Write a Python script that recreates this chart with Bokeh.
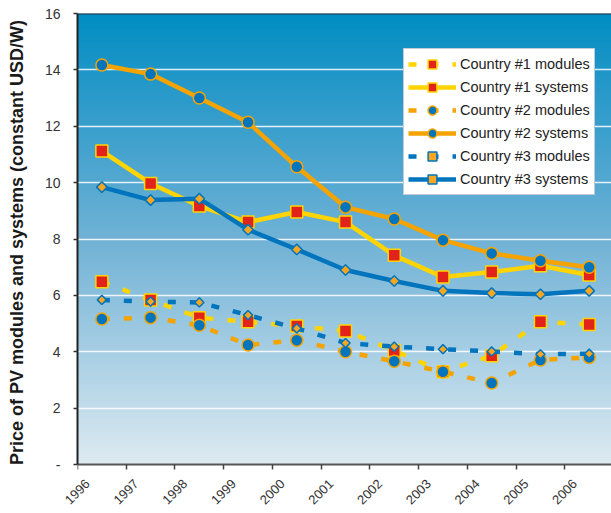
import math
import numpy as np
from bokeh.plotting import figure
from bokeh.models import (Range1d, LinearAxis, FixedTicker, Legend, LegendItem, Span,
                          CustomLabelingPolicy)
from bokeh.embed import file_html
from bokeh.resources import INLINE

# ---------------- data ----------------
years = [1996, 1997, 1998, 1999, 2000, 2001, 2002, 2003, 2004, 2005, 2006]
c1_modules = [6.48, 5.84, 5.21, 5.06, 4.91, 4.74, 4.04, 3.29, 3.86, 5.06, 4.97]
c1_systems = [11.12, 9.97, 9.17, 8.60, 8.96, 8.60, 7.42, 6.65, 6.83, 7.05, 6.72]
c2_modules = [5.16, 5.21, 4.94, 4.24, 4.41, 4.00, 3.66, 3.29, 2.89, 3.71, 3.80]
c2_systems = [14.17, 13.85, 13.00, 12.14, 10.56, 9.13, 8.71, 7.96, 7.49, 7.23, 7.00]
c3_modules = [5.84, 5.78, 5.75, 5.30, 4.83, 4.31, 4.18, 4.09, 4.01, 3.91, 3.93]
c3_systems = [9.84, 9.38, 9.43, 8.33, 7.63, 6.90, 6.51, 6.16, 6.08, 6.04, 6.16]
series_labels = ["Country #1 modules", "Country #1 systems",
                 "Country #2 modules", "Country #2 systems",
                 "Country #3 modules", "Country #3 systems"]
y_ticks = [0, 2, 4, 6, 8, 10, 12, 14, 16]
y_tick_labels = {0: "-"}

# category centres
xc = [y + 0.5 for y in years]

FONT = "Liberation Sans"
YELLOW = "#FFD400"
RED = "#E2231A"
ORANGE = "#F5A300"
BLUE = "#0074BC"
DIAM_FILL = "#F5A623"

# ---------------- layout ----------------
W, H = 611, 513
LEFT, TOP = 77, 13
AXIS_Y = 464          # screen row of the value 0
FRAME_BOTTOM = 471    # frame extends a little below 0 to leave room for labels
PX_PER_YEAR = 48.73
PX_PER_UNIT = (AXIS_Y - TOP) / 16.0
FRAME_W = W - LEFT
x_start = years[0]
x_end = years[0] + FRAME_W / PX_PER_YEAR
y_min = -(FRAME_BOTTOM - AXIS_Y) / PX_PER_UNIT
label_shift = 10 / PX_PER_YEAR

p = figure(width=W, height=H,
           x_range=Range1d(x_start, x_end), y_range=Range1d(y_min, 16),
           output_backend="svg", toolbar_location=None,
           x_axis_location=None, y_axis_location="left",
           min_border_left=LEFT, min_border_right=0, min_border_top=TOP,
           min_border_bottom=H - FRAME_BOTTOM)
p.outline_line_color = None
p.background_fill_color = "white"
p.border_fill_color = "white"

# gradient background of the plot area (0..16)
N = 451
yy = np.linspace(0, 16, N)
stops_y = [0, 8, 14, 16]
stops_r = [222, 112, 30, 0]
stops_g = [235, 178, 150, 142]
stops_b = [242, 214, 200, 195]
img = np.empty((N, 1), dtype=np.uint32)
view = img.view(dtype=np.uint8).reshape((N, 1, 4))
view[:, 0, 0] = np.interp(yy, stops_y, stops_r).astype(np.uint8)
view[:, 0, 1] = np.interp(yy, stops_y, stops_g).astype(np.uint8)
view[:, 0, 2] = np.interp(yy, stops_y, stops_b).astype(np.uint8)
view[:, 0, 3] = 255
p.image_rgba(image=[img], x=x_start, y=0, dw=x_end - x_start, dh=16, level="image")

# grid
p.xgrid.grid_line_color = None
p.ygrid.ticker = FixedTicker(ticks=y_ticks)
p.ygrid.grid_line_color = "white"
p.ygrid.grid_line_alpha = 0.85
p.ygrid.grid_line_width = 1.5

# top border line
p.add_layout(Span(location=16, dimension="width", line_color="#1f2d3a", line_width=2))

# y axis
ya = p.yaxis[0]
ya.ticker = FixedTicker(ticks=y_ticks)
ya.bounds = (0, 16)
ya.major_label_overrides = y_tick_labels
ya.major_label_text_font = FONT
ya.major_label_text_font_size = "14px"
ya.major_label_text_color = "#333333"
ya.major_label_standoff = 13
ya.major_tick_out = 4
ya.major_tick_in = 0
ya.minor_tick_out = 0
ya.minor_tick_in = 0
ya.major_tick_line_color = "#333333"
ya.major_tick_line_width = 1.5
ya.axis_line_color = "#222222"
ya.axis_line_width = 2
ya.axis_label = "Price of PV modules and systems (constant USD/W)"
ya.axis_label_text_font = FONT
ya.axis_label_text_font_size = "18px"
ya.axis_label_text_font_style = "bold"
ya.axis_label_text_color = "#1a1a1a"
ya.axis_label_standoff = 15

# x axis line + tick marks at value 0
xa = LinearAxis(ticker=FixedTicker(ticks=years), fixed_location=0)
xa.major_label_policy = CustomLabelingPolicy(code="return new Set()")
xa.major_label_text_font_size = "1px"
xa.major_label_standoff = 0
xa.major_tick_out = 5
xa.major_tick_in = 0
xa.minor_tick_out = 0
xa.minor_tick_in = 0
xa.major_tick_line_color = "#444444"
xa.major_tick_line_width = 1.5
xa.axis_line_color = "#555555"
xa.axis_line_width = 2
p.add_layout(xa, "below")

# x axis: rotated year labels
p.extra_x_ranges = {"labels": Range1d(x_start - label_shift, x_end - label_shift)}
xl = LinearAxis(x_range_name="labels", ticker=FixedTicker(ticks=years))
xl.major_label_orientation = math.pi / 4
xl.major_label_text_font = FONT
xl.major_label_text_font_size = "13px"
xl.major_label_text_line_height = 0.7
xl.major_label_text_color = "#333333"
xl.major_label_standoff = 10
xl.major_tick_out = 0
xl.major_tick_in = 0
xl.minor_tick_out = 0
xl.minor_tick_in = 0
xl.axis_line_color = None
p.add_layout(xl, "below")

DASH = "8 14"
items = []

def add_series(vals, color, marker, fill, outline, size, dashed, label, angle=0.0, lw=4.5):
    r_line = p.line(xc, vals, line_color=color, line_width=lw,
                    line_dash=DASH if dashed else "solid")
    r_pts = p.scatter(xc, vals, marker=marker, size=size, angle=angle,
                      fill_color=fill, line_color=outline, line_width=1.5)
    items.append(LegendItem(label=label, renderers=[r_line, r_pts]))

add_series(c1_modules, YELLOW, "square", RED, YELLOW, 12, True, series_labels[0])
add_series(c1_systems, YELLOW, "square", RED, YELLOW, 12, False, series_labels[1])
add_series(c2_modules, ORANGE, "circle", BLUE, ORANGE, 12, True, series_labels[2])
add_series(c2_systems, ORANGE, "circle", BLUE, ORANGE, 12, False, series_labels[3])
add_series(c3_modules, BLUE, "square", DIAM_FILL, BLUE, 6.5, True, series_labels[4], angle=math.pi / 4)
add_series(c3_systems, BLUE, "square", DIAM_FILL, BLUE, 7.5, False, series_labels[5], angle=math.pi / 4)

legend = Legend(items=items, location=(326, FRAME_BOTTOM - 195))
legend.background_fill_color = "white"
legend.background_fill_alpha = 1.0
legend.border_line_color = "#8a94b8"
legend.border_line_width = 1.5
legend.label_text_font = FONT
legend.label_text_font_size = "14.5px"
legend.label_text_color = "#222222"
legend.glyph_width = 48
legend.glyph_height = 22
legend.label_height = 22
legend.label_standoff = 4
legend.spacing = 1
legend.padding = 4
legend.margin = 0
p.add_layout(legend, "center")

open("out.html", "w").write(file_html(p, INLINE))
